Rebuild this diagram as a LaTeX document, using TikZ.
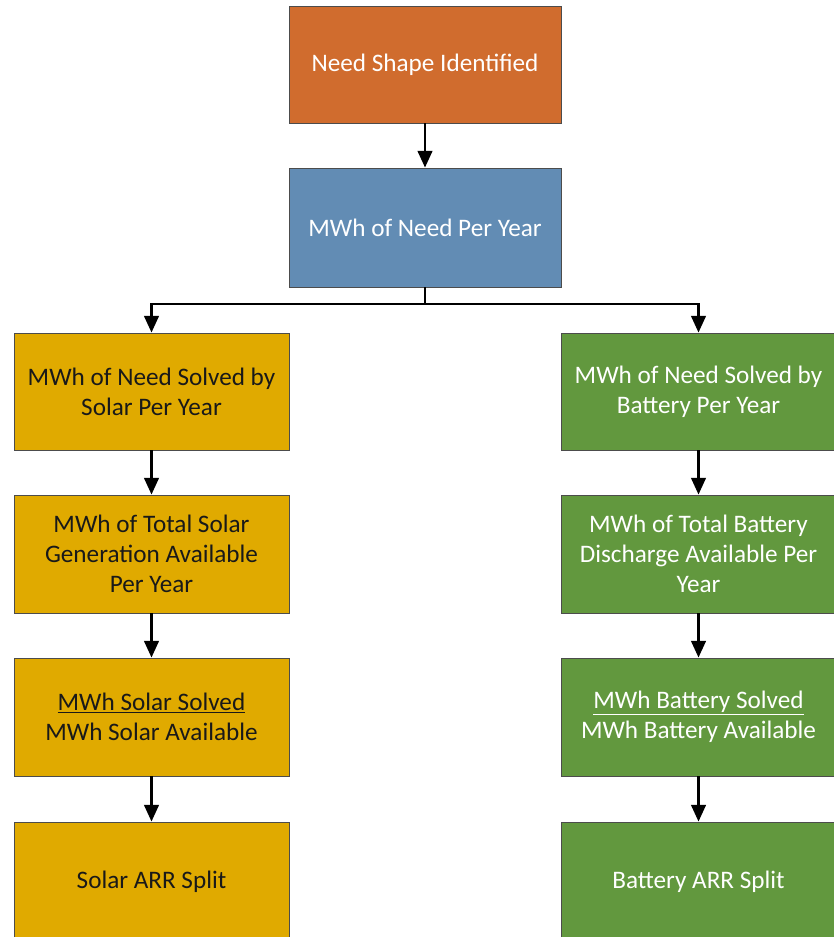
\documentclass[tikz,border=0pt]{standalone}
\usepackage{fontspec}
\setmainfont{Carlito}
\usetikzlibrary{arrows.meta,calc}

\definecolor{needorange}{RGB}{208,108,46}
\definecolor{needblue}{RGB}{98,140,180}
\definecolor{solargold}{RGB}{224,170,0}
\definecolor{batgreen}{RGB}{98,152,62}

\begin{document}
\begin{tikzpicture}[x=0.03cm,y=-0.03cm,>={Triangle[length=0.5cm,width=0.44cm]},
  box/.style={draw=black!70,line width=0.8pt,minimum width=8.25cm,minimum height=3.51cm,
    align=center,inner sep=0pt,font=\fontsize{21.5}{25.5}\selectfont},
  solarbox/.style={box,fill=solargold,text=black!90},
  batbox/.style={box,fill=batgreen,text=white},
  flow/.style={->,line width=1.9pt}]
  \useasboundingbox (0,0) rectangle (833,937);

  \node[box,minimum width=8.16cm,fill=needorange,text=white] (need) at (425,64.5) {Need Shape Identified};
  \node[box,minimum width=8.16cm,minimum height=3.57cm,fill=needblue,text=white] (mwh) at (425,227.5) {MWh of Need Per Year};

  % solar side
  \node[solarbox] (sol1) at (151.5,391.5) {MWh of Need Solved by\\Solar Per Year};
  \node[solarbox,minimum height=3.54cm] (sol2) at (151.5,554) {MWh of Total Solar\\Generation Available\\Per Year};
  \node[solarbox,minimum height=3.54cm] (sol3) at (151.5,717) {\underline{MWh Solar Solved}\\MWh Solar Available};
  \node[solarbox,minimum height=3.6cm] (sol4) at (151.5,882) {Solar ARR Split};

  % battery side
  \node[batbox] (bat1) at (698.5,391.5) {MWh of Need Solved by\\Battery Per Year};
  \node[batbox,minimum height=3.54cm] (bat2) at (698.5,554) {MWh of Total Battery\\Discharge Available Per\\Year};
  \node[batbox,minimum height=3.54cm] (bat3) at (698.5,717) {\underline{MWh Battery Solved}\\MWh Battery Available};
  \node[batbox,minimum height=3.6cm] (bat4) at (698.5,882) {Battery ARR Split};

  \coordinate (split) at (425,304);

  \draw[flow] (need) -- (mwh);
  \draw[line width=1.9pt] (mwh.south) -- (split);
  \draw[flow] (split) -| (sol1.north);
  \draw[flow] (split) -| (bat1.north);
  \draw[flow] (sol1) -- (sol2);
  \draw[flow] (sol2) -- (sol3);
  \draw[flow] (sol3) -- (sol4);
  \draw[flow] (bat1) -- (bat2);
  \draw[flow] (bat2) -- (bat3);
  \draw[flow] (bat3) -- (bat4);
\end{tikzpicture}
\end{document}
